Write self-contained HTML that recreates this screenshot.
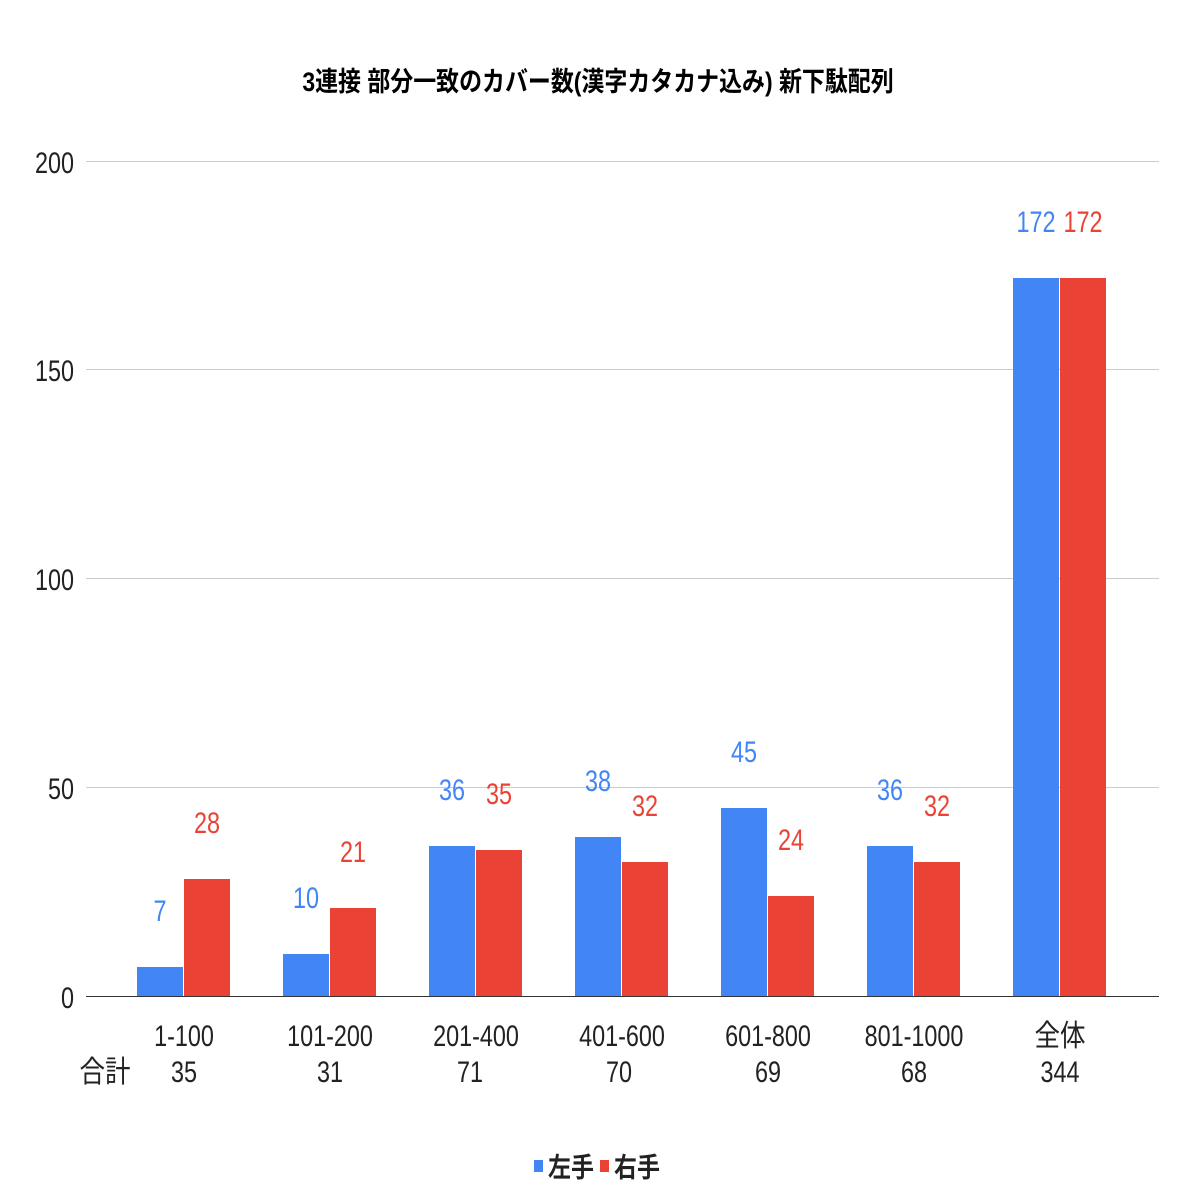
<!DOCTYPE html>
<html><head><meta charset="utf-8"><style>
html,body{margin:0;padding:0;background:#fff;}
svg text{font-family:"Liberation Sans","Noto Sans CJK JP",sans-serif;}
</style></head><body>
<svg width="1196" height="1196" viewBox="0 0 1196 1196" xmlns="http://www.w3.org/2000/svg">
<rect width="1196" height="1196" fill="#fff"/>
<text transform="translate(598,91) scale(0.85,1)" text-anchor="middle" font-size="27" font-weight="bold" fill="#000">3連接 部分一致のカバー数(漢字カタカナ込み) 新下駄配列</text>
<g stroke="#cccccc" stroke-width="1">
<line x1="86" y1="161.5" x2="1159" y2="161.5"/>
<line x1="86" y1="369.5" x2="1159" y2="369.5"/>
<line x1="86" y1="578.5" x2="1159" y2="578.5"/>
<line x1="86" y1="787.5" x2="1159" y2="787.5"/>
</g>
<g font-size="30" fill="#222" text-anchor="end">
<text transform="translate(74,173) scale(0.78,1)">200</text>
<text transform="translate(74,381) scale(0.78,1)">150</text>
<text transform="translate(74,590) scale(0.78,1)">100</text>
<text transform="translate(74,799) scale(0.78,1)">50</text>
<text transform="translate(74,1008) scale(0.78,1)">0</text>
</g>
<g fill="#4285f4">
<rect x="137" y="967" width="46" height="29"/>
<rect x="283" y="954" width="46" height="42"/>
<rect x="429" y="846" width="46" height="150"/>
<rect x="575" y="837" width="46" height="159"/>
<rect x="721" y="808" width="46" height="188"/>
<rect x="867" y="846" width="46" height="150"/>
<rect x="1013" y="278" width="46" height="718"/>
</g>
<g fill="#ea4335">
<rect x="184" y="879" width="46" height="117"/>
<rect x="330" y="908" width="46" height="88"/>
<rect x="476" y="850" width="46" height="146"/>
<rect x="622" y="862" width="46" height="134"/>
<rect x="768" y="896" width="46" height="100"/>
<rect x="914" y="862" width="46" height="134"/>
<rect x="1060" y="278" width="46" height="718"/>
</g>
<line x1="86" y1="996.5" x2="1159" y2="996.5" stroke="#333" stroke-width="1"/>
<g font-size="30" text-anchor="middle" fill="#4285f4">
<text transform="translate(160,921) scale(0.78,1)">7</text>
<text transform="translate(306,908) scale(0.78,1)">10</text>
<text transform="translate(452,800) scale(0.78,1)">36</text>
<text transform="translate(598,791) scale(0.78,1)">38</text>
<text transform="translate(744,762) scale(0.78,1)">45</text>
<text transform="translate(890,800) scale(0.78,1)">36</text>
<text transform="translate(1036,232) scale(0.78,1)">172</text>
</g>
<g font-size="30" text-anchor="middle" fill="#ea4335">
<text transform="translate(207,833) scale(0.78,1)">28</text>
<text transform="translate(353,862) scale(0.78,1)">21</text>
<text transform="translate(499,804) scale(0.78,1)">35</text>
<text transform="translate(645,816) scale(0.78,1)">32</text>
<text transform="translate(791,850) scale(0.78,1)">24</text>
<text transform="translate(937,816) scale(0.78,1)">32</text>
<text transform="translate(1083,232) scale(0.78,1)">172</text>
</g>
<g font-size="30" text-anchor="middle" fill="#222">
<text transform="translate(184,1046) scale(0.78,1)">1-100</text>
<text transform="translate(330,1046) scale(0.78,1)">101-200</text>
<text transform="translate(476,1046) scale(0.78,1)">201-400</text>
<text transform="translate(622,1046) scale(0.78,1)">401-600</text>
<text transform="translate(768,1046) scale(0.78,1)">601-800</text>
<text transform="translate(914,1046) scale(0.78,1)">801-1000</text>
<text transform="translate(1060,1046) scale(0.85,1)">全体</text>
<text transform="translate(105,1082) scale(0.85,1)">合計</text>
<text transform="translate(184,1082) scale(0.78,1)">35</text>
<text transform="translate(330,1082) scale(0.78,1)">31</text>
<text transform="translate(470,1082) scale(0.78,1)">71</text>
<text transform="translate(619,1082) scale(0.78,1)">70</text>
<text transform="translate(768,1082) scale(0.78,1)">69</text>
<text transform="translate(914,1082) scale(0.78,1)">68</text>
<text transform="translate(1060,1082) scale(0.78,1)">344</text>
</g>
<rect x="534" y="1160" width="9" height="12" fill="#4285f4"/>
<text transform="translate(548,1177) scale(0.85,1)" font-size="27" font-weight="bold" fill="#222">左手</text>
<rect x="600" y="1160" width="9" height="12" fill="#ea4335"/>
<text transform="translate(614,1177) scale(0.85,1)" font-size="27" font-weight="bold" fill="#222">右手</text>
</svg>
</body></html>
